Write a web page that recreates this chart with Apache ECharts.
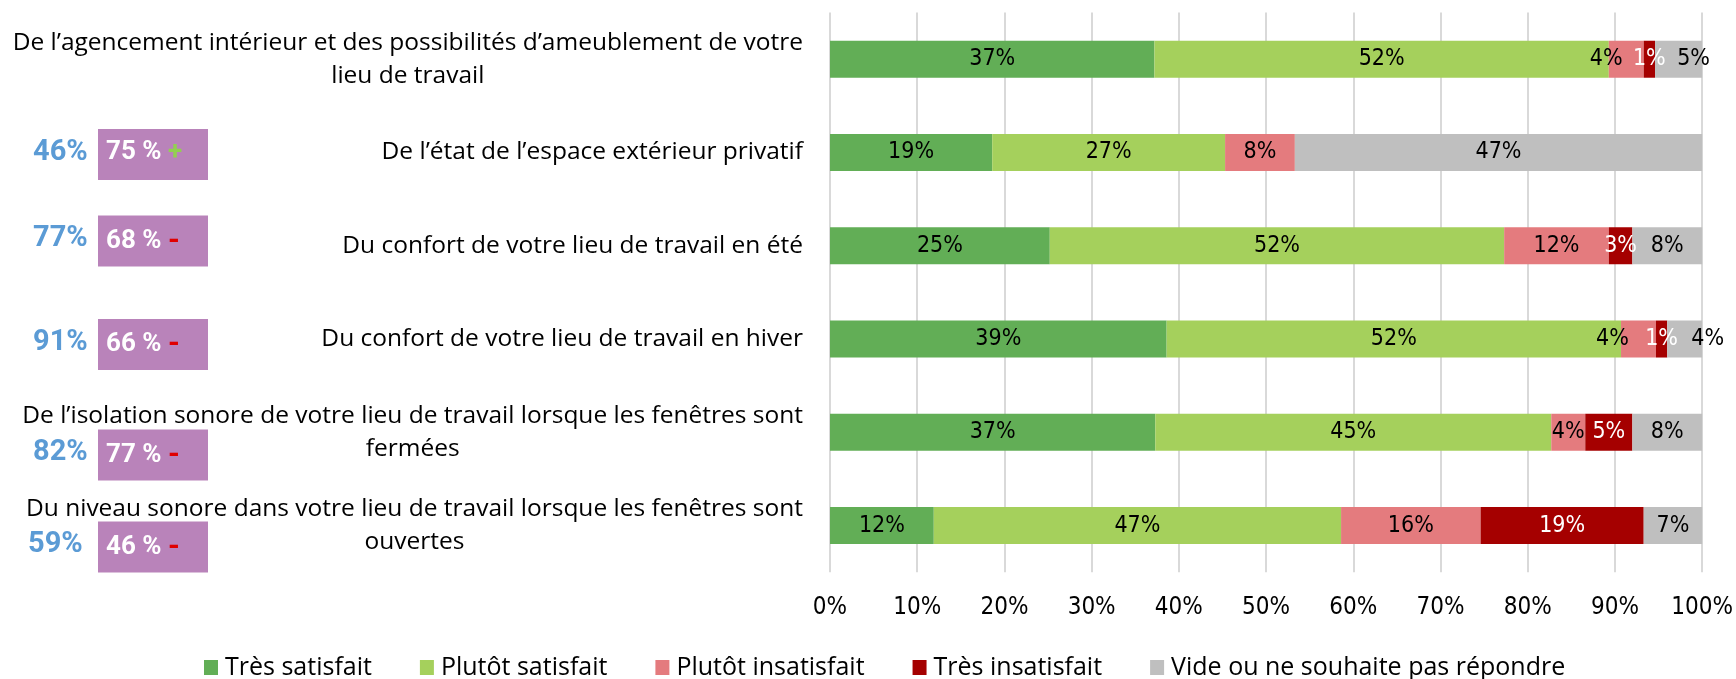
<!DOCTYPE html>
<html>
<head>
<meta charset="utf-8">
<script src="https://cdn.jsdelivr.net/npm/echarts@6/dist/echarts.min.js"></script>
<style>
	html, body { margin: 0; padding: 0; background: #ffffff; }
	#main { width: 1736px; height: 679px; }
</style>
</head>
<body>
<div id="main"></div>
<script>
// libellés des questions (du haut vers le bas)
var categories = [
	'De l’agencement intérieur et des possibilités d’ameublement de votre\nlieu de travail',
	'De l’état de l’espace extérieur privatif',
	'Du confort de votre lieu de travail en été',
	'Du confort de votre lieu de travail en hiver',
	'De l’isolation sonore de votre lieu de travail lorsque les fenêtres sont\nfermées',
	'Du niveau sonore dans votre lieu de travail lorsque les fenêtres sont\nouvertes'
];

var seriesNames = ['Très satisfait', 'Plutôt satisfait', 'Plutôt insatisfait', 'Très insatisfait', 'Vide ou ne souhaite pas répondre'];

// valeurs en %
var tresSatisfait = [37.2, 18.6, 25.2, 38.6, 37.3, 11.9];
var plutotSatisfait = [52.1, 26.7, 52.1, 52.1, 45.4, 46.7];
var plutotInsatisfait = [4.0, 8.0, 12.0, 4.0, 3.9, 16.0];
var tresInsatisfait = [1.3, 0, 2.7, 1.3, 5.4, 18.7];
var vide = [5.4, 46.7, 8.0, 4.0, 8.0, 6.7];

var xTicks = [0, 10, 20, 30, 40, 50, 60, 70, 80, 90, 100];

// annotations à gauche (lignes 2 à 6)
var tauxBleu = ['46%', '77%', '91%', '82%', '59%'];
var tauxBoite = ['75 %', '68 %', '66 %', '77 %', '46 %'];
var tendance = ['+', '-', '-', '-', '-'];

var colors = ['#62ae56', '#a5d05c', '#e47b7e', '#a50000', '#bfbfbf'];
var allValues = [tresSatisfait, plutotSatisfait, plutotInsatisfait, tresInsatisfait, vide];

var textFont = '"Open Sans", Roboto, sans-serif';
var narrowFont = '"Liberation Sans Narrow", "DejaVu Sans Condensed", sans-serif';

// petits décalages manuels des étiquettes (série_ligne : dx)
var labelNudge = { '2_0': -20, '4_0': 15, '2_3': -26, '4_3': 23 };

var myChart = echarts.init(document.getElementById('main'));

var series = allValues.map(function(vals, s) {
	return {
		name : seriesNames[s],
		type : 'bar',
		stack : 'total',
		barWidth : 37,
		itemStyle : { color : colors[s] },
		label : {
			show : true,
			position : 'inside',
			color : s === 3 ? '#ffffff' : '#000000',
			fontFamily : narrowFont,
			fontSize : 23,
			formatter : function(p) {
				return p.value > 0 ? Math.round(p.value) + '%' : '';
			}
		},
		data : vals.map(function(v, i) {
			var d = { value : v };
			var k = s + '_' + i;
			if (labelNudge[k]) {
				d.label = { offset : [labelNudge[k], 0] };
			}
			return d;
		})
	};
});

// positions des annotations (px)
var annotY = [154.5, 241, 344.5, 455, 547];
var annotBlueX = [33, 33, 33, 33, 28];
var graphics = [];
annotY.forEach(function(y, i) {
	graphics.push({
		type : 'text',
		left : annotBlueX[i],
		top : y - 16.5,
		style : {
			text : tauxBleu[i],
			fill : '#5b9bd5',
			font : 'bold 29px Roboto, sans-serif'
		}
	});
	graphics.push({
		type : 'rect',
		shape : { x : 98, y : y - 25.5, width : 110, height : 51 },
		style : { fill : '#b983ba' }
	});
	graphics.push({
		type : 'text',
		left : 106,
		top : y - 15,
		style : {
			text : '{n|' + tauxBoite[i] + ' }{' + (tendance[i] === '+' ? 'p' : 'm') + '|' + tendance[i] + '}',
			rich : {
				n : { fill : '#ffffff', font : 'bold 26px Roboto, sans-serif' },
				p : { fill : '#92d050', font : 'bold 26px Roboto, sans-serif' },
				m : { fill : '#e00000', font : 'bold 30px Roboto, sans-serif' }
			}
		}
	});
});

var option = {
	animation : false,
	grid : { left : 830, right : 31, top : 12.6, bottom : 106.8, containLabel : false },
	legend : {
		data : seriesNames,
		left : 199,
		top : 650,
		itemWidth : 14,
		itemHeight : 15,
		itemGap : 48,
		icon : 'rect',
		textStyle : { fontFamily : textFont, fontSize : 25, color : '#000000', padding : [0, 0, 0, 2] }
	},
	xAxis : {
		type : 'value',
		min : xTicks[0],
		max : xTicks[xTicks.length - 1],
		interval : xTicks[1] - xTicks[0],
		axisLine : { show : false },
		axisTick : { show : false },
		splitLine : { lineStyle : { color : '#d9d9d9', width : 2 } },
		axisLabel : {
			margin : 24,
			color : '#000000',
			fontFamily : narrowFont,
			fontSize : 24,
			formatter : '{value}%'
		}
	},
	yAxis : {
		type : 'category',
		inverse : true,
		data : categories,
		axisLine : { show : false },
		axisTick : { show : false },
		axisLabel : {
			margin : 27,
			color : '#000000',
			fontFamily : textFont,
			fontSize : 24.5,
			lineHeight : 33,
			formatter : function(v) {
				return v.split('\n').map(function(l) { return '{c|' + l + '}'; }).join('\n');
			},
			rich : {
				c : { align : 'center', fontFamily : textFont, fontSize : 24.5, lineHeight : 33, color : '#000000' }
			}
		}
	},
	graphic : graphics,
	series : series
};

myChart.setOption(option);
</script>
</body>
</html>
